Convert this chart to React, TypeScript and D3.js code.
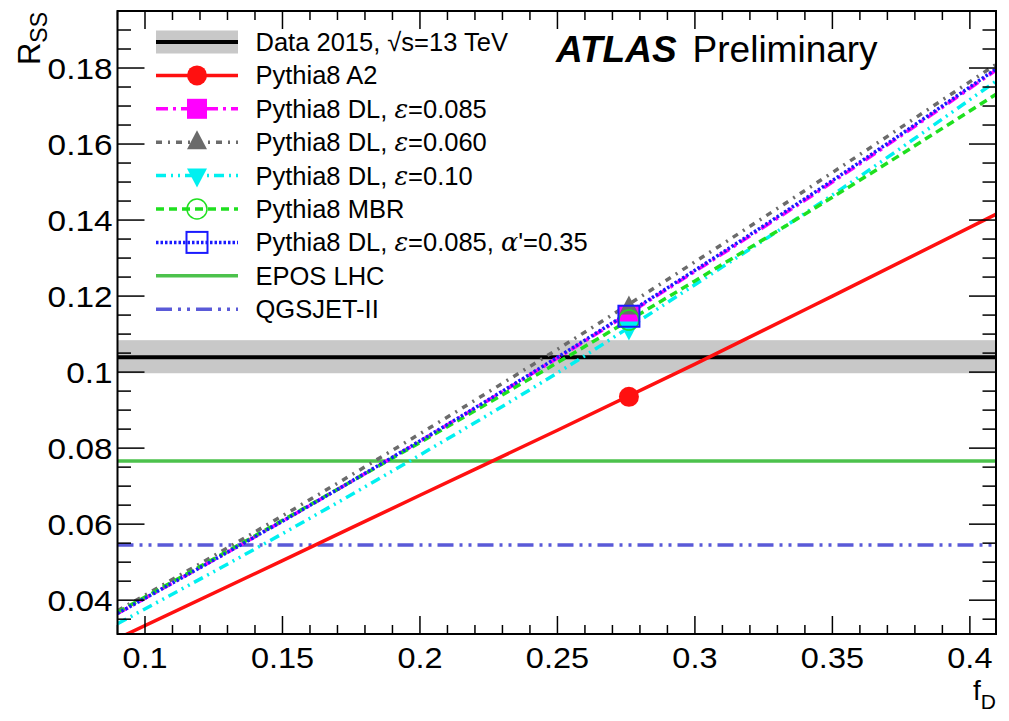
import React from "react";
import * as d3 from "d3";

// f_D sample points and R_SS
const fD = [0.09, 0.15, 0.2, 0.25, 0.3, 0.35, 0.41];
const a2 = [0.0299, 0.0504, 0.0676, 0.0847, 0.1021, 0.12, 0.1417];
const dl085 = [0.0365, 0.0608, 0.0818, 0.1037, 0.1265, 0.15, 0.1797];
const dl060 = [0.0372, 0.0622, 0.0838, 0.106, 0.129, 0.1525, 0.1812];
const dl010 = [0.0338, 0.0575, 0.0782, 0.0998, 0.123, 0.1466, 0.1768];
const mbr = [0.0368, 0.061, 0.0815, 0.1025, 0.124, 0.146, 0.1733];
const dlAlpha = [0.0365, 0.0608, 0.0819, 0.1039, 0.1268, 0.1504, 0.18];

// nominal f_D point with markers
const markerFD = 0.276;
const markerValues = [0.0935, 0.115, 0.117, 0.1115, 0.1137, 0.1147];

const dataValue = 0.1039;
const dataLow = 0.0997;
const dataHigh = 0.1084;
const eposValue = 0.0766;
const qgsjetValue = 0.0545;

const xTicks = [0.1, 0.15, 0.2, 0.25, 0.3, 0.35, 0.4];
const yTicks = [0.04, 0.06, 0.08, 0.1, 0.12, 0.14, 0.16, 0.18];

const margin = { top: 11, right: 13, bottom: 87, left: 117.5 };
const W = 1009;
const H = 721;
const width = W - margin.left - margin.right;
const height = H - margin.top - margin.bottom;

const x = d3.scaleLinear().domain([0.09, 0.4095]).range([0, width]);
const y = d3.scaleLinear().domain([0.0311, 0.195]).range([height, 0]);

const font = "'Liberation Sans', Arial, Helvetica, sans-serif";

type Model = {
  key: string;
  values: number[];
  color: string;
  dash: string | null;
  width: number;
  marker: string;
};

const models: Model[] = [
  { key: "a2", values: a2, color: "#ff1010", dash: null, width: 3.5, marker: "circle" },
  { key: "dl085", values: dl085, color: "#ff00ff", dash: "12,5,3,5", width: 3.5, marker: "square" },
  { key: "dl060", values: dl060, color: "#6b6b6b", dash: "6,6,2,6", width: 3.5, marker: "triangle" },
  { key: "dl010", values: dl010, color: "#00f0f0", dash: "10,5,2,5,2,5", width: 3.5, marker: "triangleDown" },
  { key: "mbr", values: mbr, color: "#1fe01f", dash: "8,5", width: 3.5, marker: "openCircle" },
  { key: "dlAlpha", values: dlAlpha, color: "#1a1aff", dash: "2.5,2", width: 3.5, marker: "openSquare" },
];

function Marker({ type, cx, cy, color }: { type: string; cx: number; cy: number; color: string }) {
  if (type === "circle") return <circle cx={cx} cy={cy} r={10} fill={color} />;
  if (type === "square") return <rect x={cx - 10} y={cy - 10} width={20} height={20} fill={color} />;
  if (type === "triangle")
    return <path d={`M${cx},${cy - 12}L${cx + 10},${cy + 7}L${cx - 10},${cy + 7}Z`} fill={color} />;
  if (type === "triangleDown")
    return <path d={`M${cx},${cy + 12}L${cx + 10},${cy - 7}L${cx - 10},${cy - 7}Z`} fill={color} />;
  if (type === "openCircle")
    return <circle cx={cx} cy={cy} r={10} fill="none" stroke={color} strokeWidth={1.5} />;
  return <rect x={cx - 10.5} y={cy - 10.5} width={21} height={21} fill="none" stroke={color} strokeWidth={2} />;
}

function Eps() {
  return <tspan fontStyle="italic" fontFamily="'DejaVu Serif', serif">ε</tspan>;
}

export default function App() {
  const line = (vals: number[]) =>
    d3.line<number>()
      .x((_, i) => x(fD[i]))
      .y(d => y(d))
      .curve(d3.curveMonotoneX)(vals) || "";

  const xMinor = d3.range(0.09, 0.4095, 0.01).map(v => +v.toFixed(3)).filter(v => !xTicks.some(t => Math.abs(t - v) < 1e-6));
  const yMinor = d3.range(0.035, 0.195, 0.005).map(v => +v.toFixed(4)).filter(v => !yTicks.some(t => Math.abs(t - v) < 1e-6));

  const legendRows: { label: React.ReactNode; model?: Model; kind?: string }[] = [
    { label: <>Data 2015, √s=13 TeV</>, kind: "data" },
    { label: <>Pythia8 A2</>, model: models[0] },
    { label: <>Pythia8 DL, <Eps />=0.085</>, model: models[1] },
    { label: <>Pythia8 DL, <Eps />=0.060</>, model: models[2] },
    { label: <>Pythia8 DL, <Eps />=0.10</>, model: models[3] },
    { label: <>Pythia8 MBR</>, model: models[4] },
    { label: <>Pythia8 DL, <Eps />=0.085, <tspan fontStyle="italic" fontFamily="'DejaVu Serif', serif">α</tspan>'=0.35</>, model: models[5] },
    { label: <>EPOS LHC</>, kind: "epos" },
    { label: <>QGSJET-II</>, kind: "qgsjet" },
  ];

  return (
    <svg width={W} height={H} style={{ position: "absolute", left: 0, top: 0, background: "#fff" }} fontFamily={font}>
      <defs>
        <clipPath id="frame">
          <rect x={0} y={0} width={width} height={height} />
        </clipPath>
      </defs>
      <g transform={`translate(${margin.left},${margin.top})`}>
        <g clipPath="url(#frame)">
          <rect x={0} y={y(dataHigh)} width={width} height={y(dataLow) - y(dataHigh)} fill="#c8c8c8" />
          <line x1={0} x2={width} y1={y(dataValue)} y2={y(dataValue)} stroke="#000" strokeWidth={4} />
          <line x1={0} x2={width} y1={y(eposValue)} y2={y(eposValue)} stroke="#4cc24c" strokeWidth={3.5} />
          <line x1={0} x2={width} y1={y(qgsjetValue)} y2={y(qgsjetValue)} stroke="#5a5ad8" strokeWidth={3.5} strokeDasharray="16,6,3,6,3,6" />
          {models.map(m => (
            <path key={m.key} d={line(m.values)} fill="none" stroke={m.color} strokeWidth={m.width} strokeDasharray={m.dash ?? undefined} />
          ))}
          {models.map((m, i) => (
            <Marker key={m.key} type={m.marker} cx={x(markerFD)} cy={y(markerValues[i])} color={m.color} />
          ))}
        </g>

        {/* frame and ticks */}
        <rect x={0} y={0} width={width} height={height} fill="none" stroke="#000" strokeWidth={2} />
        {xTicks.map(t => (
          <g key={t}>
            <line x1={x(t)} x2={x(t)} y1={height} y2={height - 18} stroke="#000" strokeWidth={1.5} />
            <line x1={x(t)} x2={x(t)} y1={0} y2={18} stroke="#000" strokeWidth={1.5} />
            <text transform={`translate(${x(t)},${height + 34}) scale(1.12,1)`} fontSize={29} textAnchor="middle">{String(t)}</text>
          </g>
        ))}
        {xMinor.map(t => (
          <g key={t}>
            <line x1={x(t)} x2={x(t)} y1={height} y2={height - 9} stroke="#000" strokeWidth={1.5} />
            <line x1={x(t)} x2={x(t)} y1={0} y2={9} stroke="#000" strokeWidth={1.5} />
          </g>
        ))}
        {yTicks.map(t => (
          <g key={t}>
            <line x1={0} x2={27} y1={y(t)} y2={y(t)} stroke="#000" strokeWidth={1.5} />
            <line x1={width} x2={width - 27} y1={y(t)} y2={y(t)} stroke="#000" strokeWidth={1.5} />
            <text transform={`translate(-5,${y(t) + 10.5}) scale(1.15,1)`} fontSize={29} textAnchor="end">{String(t)}</text>
          </g>
        ))}
        {yMinor.map(t => (
          <g key={t}>
            <line x1={0} x2={13.5} y1={y(t)} y2={y(t)} stroke="#000" strokeWidth={1.5} />
            <line x1={width} x2={width - 13.5} y1={y(t)} y2={y(t)} stroke="#000" strokeWidth={1.5} />
          </g>
        ))}

        {/* legend */}
        {legendRows.map((row, i) => {
          const cy = 31 + i * 33.4;
          const x0 = 156 - margin.left;
          const x1 = 238 - margin.left;
          const xm = (x0 + x1) / 2;
          return (
            <g key={i}>
              {row.kind === "data" && (
                <>
                  <rect x={x0} y={cy - 11.5} width={x1 - x0} height={23} fill="#c8c8c8" />
                  <line x1={x0} x2={x1} y1={cy} y2={cy} stroke="#000" strokeWidth={4} />
                </>
              )}
              {row.kind === "epos" && <line x1={x0} x2={x1} y1={cy} y2={cy} stroke="#4cc24c" strokeWidth={3.5} />}
              {row.kind === "qgsjet" && (
                <line x1={x0} x2={x1} y1={cy} y2={cy} stroke="#5a5ad8" strokeWidth={3.5} strokeDasharray="16,6,3,6,3,6" />
              )}
              {row.model && (
                <>
                  <line x1={x0} x2={x1} y1={cy} y2={cy} stroke={row.model.color} strokeWidth={row.model.width} strokeDasharray={row.model.dash ?? undefined} />
                  <Marker type={row.model.marker} cx={xm} cy={cy} color={row.model.color} />
                </>
              )}
              <text x={255.5 - margin.left} y={cy + 9} fontSize={25.5}>{row.label}</text>
            </g>
          );
        })}

        <text x={556 - margin.left} y={62 - margin.top} fontSize={37}>
          <tspan fontWeight="bold" fontStyle="italic">ATLAS</tspan>
          <tspan dx={16}>Preliminary</tspan>
        </text>
      </g>

      {/* axis titles */}
      <text transform="translate(40,12) rotate(-90)" fontSize={31} textAnchor="end">
        R<tspan fontSize={23} dy={7}>SS</tspan>
      </text>
      <text x={996} y={700} fontSize={28} textAnchor="end">
        f<tspan fontSize={21} dy={9}>D</tspan>
      </text>
    </svg>
  );
}
